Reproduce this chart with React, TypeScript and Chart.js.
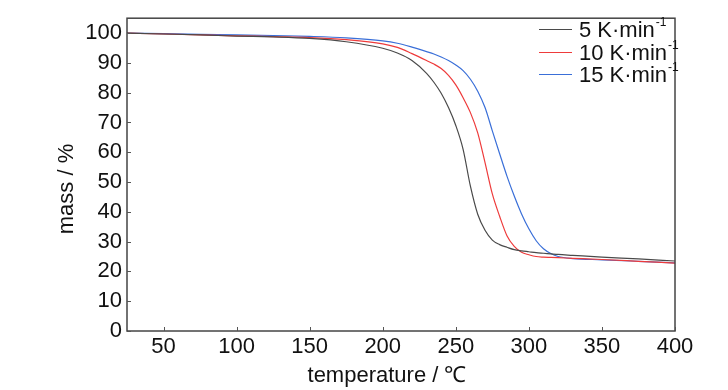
import React, { useEffect, useRef } from "react";
import { Chart, registerables } from "chart.js";

Chart.register(...registerables);

const temperature = [25, 50, 75, 100, 125, 150, 175, 200, 210, 220, 230, 235, 240, 245, 250, 255, 260, 265, 270, 275, 280, 285, 290, 295, 300, 305, 310, 315, 320, 330, 350, 375, 400];
const mass5 = [100, 99.7, 99.4, 99.0, 98.7, 98.2, 97.1, 94.9, 93.3, 90.8, 86.5, 83.5, 79.8, 75, 69, 61, 48.6, 39.2, 33.8, 30.5, 29, 28.1, 27.3, 26.9, 26.6, 26.3, 26.1, 25.9, 25.7, 25.4, 24.8, 24.2, 23.5];
const mass10 = [100, 99.7, 99.4, 99.1, 98.8, 98.5, 97.8, 96.4, 95.2, 93.1, 90.8, 89.6, 88.1, 85.8, 82.6, 78.3, 73.3, 66.5, 56.5, 46, 38.5, 32, 28.4, 26.4, 25.6, 25, 24.8, 24.7, 24.6, 24.4, 24, 23.4, 22.8];
const mass15 = [100, 99.8, 99.6, 99.4, 99.2, 98.9, 98.4, 97.4, 96.6, 95.3, 93.8, 93, 92, 90.8, 89.3, 87.4, 84.5, 80.5, 75, 67.2, 59.5, 52, 45.3, 39.3, 34.3, 30.3, 27.6, 26, 25, 24.3, 23.9, 23.4, 22.9];

const seriesRates = ["5", "10", "15"];
const rateUnit = "K·min";
const rateUnitSup = "-1";
const xTicks = [50, 100, 150, 200, 250, 300, 350, 400];
const yTicks = [0, 10, 20, 30, 40, 50, 60, 70, 80, 90, 100];
const xTitle = "temperature / ℃";
const yTitle = "mass / %";

const FONT = "'Liberation Sans', Arial, sans-serif";
const colors = ["#4a4a4a", "#ee3b3b", "#3a6fd8"];

export default function App() {
  const ref = useRef<HTMLCanvasElement>(null);
  useEffect(() => {
    const canvas = ref.current;
    if (!canvas) return;
    const series = [mass5, mass10, mass15];
    const decor = {
      id: "decor",
      afterDraw(chart: any) {
        const { ctx, chartArea } = chart;
        const { left, right, top, bottom } = chartArea;
        const xs = chart.scales.x;
        const ys = chart.scales.y;
        ctx.save();
        // frame
        ctx.strokeStyle = "#444";
        ctx.lineWidth = 1.5;
        ctx.strokeRect(left, top, right - left, bottom - top);
        // inward ticks
        ctx.lineWidth = 1;
        ctx.strokeStyle = "#555";
        ctx.beginPath();
        xTicks.forEach((v) => {
          const px = Math.round(xs.getPixelForValue(v)) + 0.5;
          ctx.moveTo(px, bottom);
          ctx.lineTo(px, bottom - 4);
        });
        yTicks.forEach((v) => {
          const py = Math.round(ys.getPixelForValue(v)) + 0.5;
          ctx.moveTo(left, py);
          ctx.lineTo(left + 4, py);
        });
        ctx.stroke();
        // axis titles
        ctx.fillStyle = "#111";
        ctx.font = `22px ${FONT}`;
        ctx.textAlign = "center";
        ctx.textBaseline = "middle";
        ctx.fillText(xTitle, 387, 376);
        ctx.save();
        ctx.translate(67, 189);
        ctx.rotate(-Math.PI / 2);
        ctx.fillText(yTitle, 0, 0);
        ctx.restore();
        // legend
        const lx0 = 539, lx1 = 572, tx = 579;
        const rowY = [29, 52, 74];
        seriesRates.forEach((r, i) => {
          const y = rowY[i];
          ctx.strokeStyle = colors[i];
          ctx.lineWidth = 1;
          ctx.beginPath();
          ctx.moveTo(lx0, y + 0.5);
          ctx.lineTo(lx1, y + 0.5);
          ctx.stroke();
          ctx.fillStyle = "#111";
          ctx.textAlign = "left";
          ctx.textBaseline = "alphabetic";
          ctx.font = `22px ${FONT}`;
          const main = `${r} ${rateUnit}`;
          ctx.fillText(main, tx, y + 8);
          const w = ctx.measureText(main).width;
          ctx.font = `12px ${FONT}`;
          ctx.fillText(rateUnitSup, tx + w + 1, y - 3);
        });
        ctx.restore();
      },
    };
    const chart = new Chart(canvas, {
      type: "line",
      data: {
        labels: temperature,
        datasets: series.map((s, i) => ({
          label: `${seriesRates[i]} ${rateUnit}${rateUnitSup}`,
          data: temperature.map((t, j) => ({ x: t, y: s[j] })),
          borderColor: colors[i],
          borderWidth: 1.2,
          pointRadius: 0,
          fill: false,
          cubicInterpolationMode: "monotone" as const,
        })),
      },
      options: {
        animation: false,
        responsive: false,
        layout: { padding: { left: 0, right: 53, top: 11, bottom: 0 } },
        plugins: { legend: { display: false }, tooltip: { enabled: false } },
        scales: {
          x: {
            type: "linear",
            min: 25,
            max: 400,
            grid: { display: false, drawTicks: false },
            border: { display: false },
            afterBuildTicks: (s: any) => {
              s.ticks = xTicks.map((v) => ({ value: v }));
            },
            afterFit: (s: any) => {
              s.height = 59;
            },
            ticks: {
              padding: 3,
              color: "#111",
              maxRotation: 0,
              autoSkip: false,
              font: { family: FONT, size: 22 },
            },
          },
          y: {
            type: "linear",
            min: 0,
            max: 105,
            grid: { display: false, drawTicks: false },
            border: { display: false },
            afterBuildTicks: (s: any) => {
              s.ticks = yTicks.map((v) => ({ value: v }));
            },
            afterFit: (s: any) => {
              s.width = 127;
            },
            ticks: {
              padding: 5,
              color: "#111",
              autoSkip: false,
              font: { family: FONT, size: 22 },
            },
          },
        },
      },
      plugins: [decor],
    });
    return () => chart.destroy();
  }, []);
  return (
    <div style={{ position: "fixed", left: 0, top: 0, width: 728, height: 390, background: "#fff" }}>
      <canvas ref={ref} width={728} height={390} style={{ display: "block" }} />
    </div>
  );
}
